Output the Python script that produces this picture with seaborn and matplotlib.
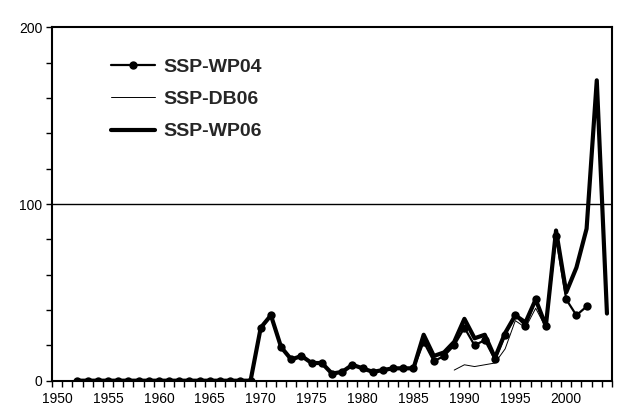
import matplotlib
matplotlib.use("Agg")
import matplotlib.pyplot as plt
import seaborn as sns
import pandas as pd
import numpy as np
from matplotlib.lines import Line2D
from matplotlib.ticker import MultipleLocator, FixedLocator

# Annual series
years_wp04 = list(range(1952, 2003))
wp04 = [0, 0, 0, 0, 0, 0, 0, 0, 0, 0, 0, 0, 0, 0, 0, 0, 0, 0,   # 1952-1969
        30, 37, 19, 12, 14, 10, 10, 4, 5, 9, 7, 5, 6, 7, 7, 7,   # 1970-1985
        22, 11, 14, 20, 30, 20, 23, 12, 26, 37, 31, 46, 31, 82,  # 1986-1999
        46, 37, 42]                                              # 2000-2002

years_db06 = list(range(1989, 1999))
db06 = [6, 9, 8, 9, 10, 18, 34, 30, 41, 30]

years_wp06 = list(range(1952, 2005))
wp06 = [0, 0, 0, 0, 0, 0, 0, 0, 0, 0, 0, 0, 0, 0, 0, 0, 0, 0,   # 1952-1969
        30, 37, 19, 12, 14, 10, 10, 4, 5, 9, 7, 5, 6, 7, 7, 7,   # 1970-1985
        26, 14, 16, 22, 35, 24, 26, 13, 27, 37, 33, 46, 31, 85,  # 1986-1999
        50, 64, 86, 170, 38]                                     # 2000-2004

x_labels = list(range(1950, 2001, 5))
y_ticks = [0, 100, 200]

df_wp04 = pd.DataFrame({"year": years_wp04, "value": wp04})
df_db06 = pd.DataFrame({"year": years_db06, "value": db06})
df_wp06 = pd.DataFrame({"year": years_wp06, "value": wp06})

sns.set_style("white")
plt.rcParams["font.family"] = ["Liberation Sans", "DejaVu Sans"]

fig = plt.figure(figsize=(6.22, 4.12), dpi=100)
ax = fig.add_axes([0.0836, 0.076, 0.9004, 0.8577])

sns.lineplot(data=df_wp06, x="year", y="value", ax=ax, color="black",
             linewidth=3.0, zorder=2)
sns.lineplot(data=df_db06, x="year", y="value", ax=ax, color="black",
             linewidth=0.7, zorder=3)
sns.lineplot(data=df_wp04, x="year", y="value", ax=ax, color="black",
             linewidth=1.6, marker="o", markersize=6, markeredgewidth=0,
             zorder=4)

ax.set_xlim(1949.5, 2004.5)
ax.set_ylim(0, 200)
ax.set_xlabel("")
ax.set_ylabel("")

ax.xaxis.set_major_locator(FixedLocator(x_labels))
ax.xaxis.set_minor_locator(FixedLocator(np.arange(1949.5, 2005, 1.0)))
ax.set_xticklabels([str(y) for y in x_labels])
ax.yaxis.set_major_locator(FixedLocator(y_ticks))
ax.yaxis.set_minor_locator(MultipleLocator(20))

ax.tick_params(axis="x", which="major", length=0, pad=8, labelsize=10,
               colors="black")
ax.tick_params(axis="x", which="minor", length=4, width=1, direction="out",
               color="black", bottom=True)
ax.tick_params(axis="y", which="major", length=4, width=1, direction="out",
               labelsize=10, colors="black", pad=3, left=True)
ax.tick_params(axis="y", which="minor", length=4, width=1, direction="out",
               color="black", left=True)

ax.axhline(100, color="black", linewidth=1.0, zorder=1)

for side in ["left", "right", "top", "bottom"]:
    ax.spines[side].set_visible(True)
    ax.spines[side].set_color("black")
    ax.spines[side].set_linewidth(1.5)

handles = [
    Line2D([], [], color="black", linewidth=1.6, marker="o", markersize=5),
    Line2D([], [], color="black", linewidth=0.7),
    Line2D([], [], color="black", linewidth=3.0),
]
labels = ["SSP-WP04", "SSP-DB06", "SSP-WP06"]
ax.legend(handles, labels, loc="upper left", bbox_to_anchor=(0.092, 0.935),
          frameon=False, handlelength=2.25, handletextpad=0.41,
          labelspacing=0.76, borderaxespad=0,
          prop={"family": "Liberation Sans", "weight": "bold", "size": 14})

fig.savefig("out.png", dpi=100)
